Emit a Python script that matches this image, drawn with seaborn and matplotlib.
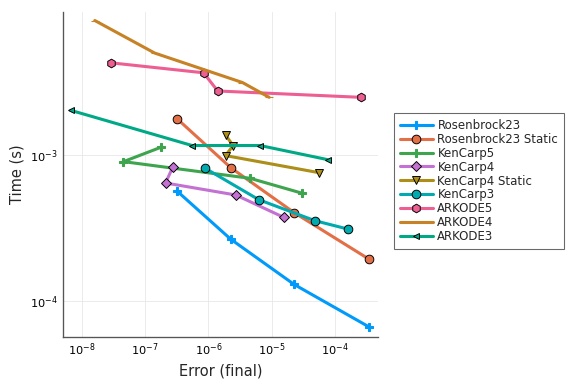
import matplotlib
matplotlib.use("Agg")
import matplotlib.pyplot as plt
import pandas as pd
import seaborn as sns

# work-precision data: error (final) vs time (s)
names = ["Rosenbrock23", "Rosenbrock23 Static", "KenCarp5", "KenCarp4",
         "KenCarp4 Static", "KenCarp3", "ARKODE5", "ARKODE4", "ARKODE3"]

rosenbrock23_err = [3.18e-7, 2.25e-6, 2.26e-5, 3.43e-4]
rosenbrock23_time = [5.66e-4, 2.65e-4, 1.30e-4, 6.67e-5]

rosenbrock23_static_err = [3.18e-7, 2.25e-6, 2.26e-5, 3.43e-4]
rosenbrock23_static_time = [1.77e-3, 8.18e-4, 4.03e-4, 1.94e-4]

kencarp5_err = [1.78e-7, 4.52e-8, 4.55e-6, 3.03e-5]
kencarp5_time = [1.13e-3, 9.0e-4, 6.92e-4, 5.47e-4]

kencarp4_err = [2.72e-7, 2.09e-7, 2.70e-6, 1.55e-5]
kencarp4_time = [8.24e-4, 6.43e-4, 5.32e-4, 3.74e-4]

kencarp4_static_err = [1.88e-6, 2.45e-6, 1.86e-6, 5.62e-5]
kencarp4_static_time = [1.36e-3, 1.16e-3, 9.9e-4, 7.56e-4]

kencarp3_err = [8.83e-7, 6.25e-6, 4.81e-5, 1.60e-4]
kencarp3_time = [8.11e-4, 4.94e-4, 3.55e-4, 3.11e-4]

arkode5_err = [2.88e-8, 8.34e-7, 1.40e-6, 2.54e-4]
arkode5_time = [4.27e-3, 3.65e-3, 2.74e-3, 2.48e-3]

arkode4_err = [1.59e-8, 1.41e-7, 3.45e-6, 9.10e-6]
arkode4_time = [8.32e-3, 4.98e-3, 3.13e-3, 2.48e-3]

arkode3_err = [6.63e-9, 5.51e-7, 6.55e-6, 7.64e-5]
arkode3_time = [2.02e-3, 1.16e-3, 1.16e-3, 9.29e-4]

errs = [rosenbrock23_err, rosenbrock23_static_err, kencarp5_err, kencarp4_err,
        kencarp4_static_err, kencarp3_err, arkode5_err, arkode4_err, arkode3_err]
times = [rosenbrock23_time, rosenbrock23_static_time, kencarp5_time, kencarp4_time,
         kencarp4_static_time, kencarp3_time, arkode5_time, arkode4_time, arkode3_time]

colors = ["#009AFA", "#E36F47", "#3EA44E", "#C371D2", "#AC8E18",
          "#00AAAE", "#ED5E93", "#C68225", "#00A985"]
markers = ["P", "o", "P", "D", "v", "o", "h", "_", "<"]
msizes = [6, 6.5, 6, 5, 6.5, 6.5, 6.5, 6, 4.5]

sns.set_style("white")
plt.rcParams["font.family"] = ["DejaVu Sans"]

fig = plt.figure(figsize=(6, 4), dpi=96)
ax = fig.add_axes([0.109, 0.122, 0.547, 0.847])

for i, name in enumerate(names):
    df = pd.DataFrame({"error": errs[i], "time": times[i]})
    crossy = markers[i] in ("P", "_")
    sns.lineplot(data=df, x="error", y="time", ax=ax, sort=False, estimator=None,
                 color=colors[i], linewidth=2.3, marker=markers[i],
                 markersize=msizes[i],
                 markeredgecolor=colors[i] if crossy else "black",
                 markeredgewidth=0.7 if not crossy else 0.8,
                 label=name)

ax.set_xscale("log")
ax.set_yscale("log")
ax.set_xlim(10 ** -8.305, 10 ** -3.321)
ax.set_ylim(10 ** -4.247, 10 ** -2.021)
ax.set_xticks([1e-8, 1e-7, 1e-6, 1e-5, 1e-4])
ax.set_yticks([1e-4, 1e-3])
ax.minorticks_off()
ax.grid(True, color="#e6e6e6", linewidth=0.6)
ax.tick_params(direction="in", length=3, labelsize=8.5, color="#444444",
               labelcolor="black")
for s in ["top", "right"]:
    ax.spines[s].set_visible(False)
for s in ["left", "bottom"]:
    ax.spines[s].set_color("#555555")
    ax.spines[s].set_linewidth(1.0)

ax.set_xlabel("Error (final)", fontsize=11)
ax.set_ylabel("Time (s)", fontsize=11)

leg = ax.legend(loc="upper left", bbox_to_anchor=(0.684, 0.706),
                bbox_transform=fig.transFigure, fontsize=8.8, frameon=True,
                fancybox=False, borderaxespad=0, handlelength=2.8,
                labelspacing=0.08, borderpad=0.5, handletextpad=0.4)
leg.get_frame().set_edgecolor("#444444")
leg.get_frame().set_linewidth(0.8)

fig.savefig("out.png", dpi=96)
